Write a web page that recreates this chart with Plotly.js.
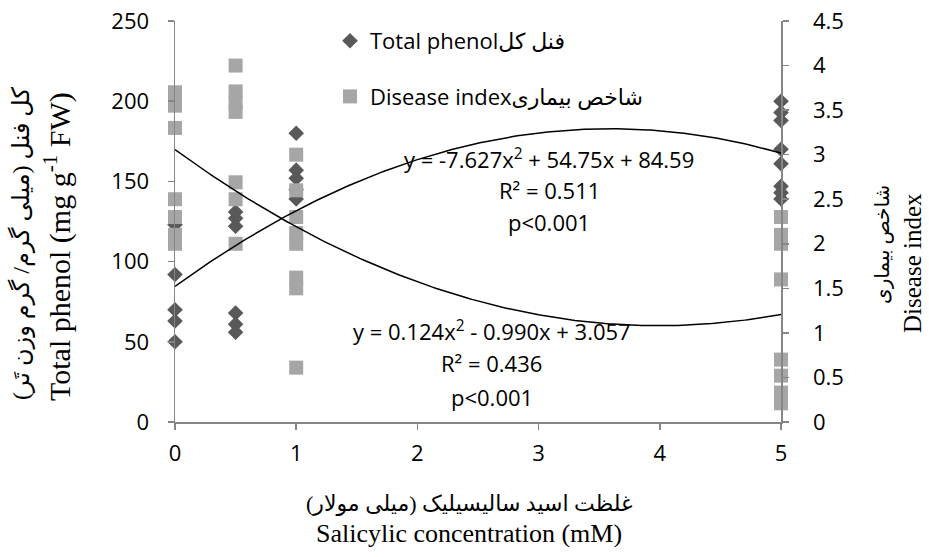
<!DOCTYPE html>
<html>
<head>
<meta charset="utf-8">
<script src="https://cdn.plot.ly/plotly-3.0.1.min.js"></script>
<style>html,body{margin:0;padding:0;background:#fff;}#chart{width:929px;height:557px;}</style>
</head>
<body>
<div id="chart"></div>
<script>
// ---- data ----
const phenolX = [0,0,0,0,0, 0.5,0.5,0.5,0.5,0.5,0.5, 1,1,1,1,1, 5,5,5,5,5,5,5,5];
const phenolY = [123,92,70,63,50, 131,127,122,68,61,56, 180,157,152,145,139, 200,193,188,170,161,147,143,139];
const diseaseX = [0,0,0,0,0,0,0,0, 0.5,0.5,0.5,0.5,0.5,0.5,0.5, 1,1,1,1,1,1,1,1, 5,5,5,5,5,5,5,5];
const diseaseY = [3.70,3.62,3.55,3.30,2.50,2.30,2.10,2.00, 4.00,3.71,3.59,3.48,2.69,2.50,2.00, 3.00,2.60,2.30,2.12,2.00,1.62,1.50,0.61, 2.30,2.10,2.00,1.60,0.70,0.52,0.33,0.21];
// trend-line coefficients as printed on the chart (a, b, c for a*x^2 + b*x + c)
const phenolFit = [-7.627, 54.75, 84.59];
const diseaseFit = [0.124, -0.990, 3.057];
const xTicks = [0,1,2,3,4,5];
const phenolTicks = [0,50,100,150,200,250];
const diseaseTicks = [0,0.5,1,1.5,2,2.5,3,3.5,4,4.5];
const eq1 = ["y = -7.627x<sup>2</sup> + 54.75x + 84.59", "R² = 0.511", "p<0.001"];
const eq2 = ["y = 0.124x<sup>2</sup> - 0.990x + 3.057", "R² = 0.436", "p<0.001"];
const legendPhenol = "Total phenolفنل کل";
const legendDisease = "Disease indexشاخص بیماری";
const xTitleFa = "غلظت اسید سالیسیلیک (میلی مولار)";
const xTitleEn = "Salicylic concentration (mM)";
const yTitleFa = "کل فنل (میلی گرم/ گرم وزن تَر)";
const yTitleEn = "Total phenol (mg g<sup>-1</sup> FW)";
const y2TitleFa = "شاخص بیماری";
const y2TitleEn = "Disease index";

// ---- build fitted curves ----
function curve(c){
  const xs=[], ys=[];
  for(let i=0;i<=200;i++){ const x=5*i/200; xs.push(x); ys.push(c[0]*x*x+c[1]*x+c[2]); }
  return {xs, ys};
}
const pc = curve(phenolFit), dc = curve(diseaseFit);

const tickFont = {family:"Open Sans, DejaVu Sans", size:22, color:"#000"};
const serif = "Liberation Serif, DejaVu Sans";
const axisCol = "#868686";

const traces = [
  {x:phenolX, y:phenolY, type:"scatter", mode:"markers", name:legendPhenol, legendgroup:"a",
   marker:{symbol:"diamond", size:12, color:"#595959"}, yaxis:"y", cliponaxis:false},
  {x:diseaseX, y:diseaseY, type:"scatter", mode:"markers", name:legendDisease, legendgroup:"b",
   marker:{symbol:"square", size:14, color:"#A6A6A6"}, yaxis:"y2", cliponaxis:false},
  {x:dc.xs, y:dc.ys, type:"scatter", mode:"lines", line:{color:"#000", width:1.5}, yaxis:"y2", showlegend:false, hoverinfo:"skip"},
  {x:pc.xs, y:pc.ys, type:"scatter", mode:"lines", line:{color:"#000", width:1.5}, yaxis:"y3", showlegend:false, hoverinfo:"skip"}
];

const L=175, R=781, T=21, B=422, W=R-L, H=B-T;
const px = v => (v-L)/W, py = v => (B-v)/H;
function ann(text,x,y,size,family,angle){
  return {text, x:px(x), y:py(y), xref:"paper", yref:"paper", showarrow:false, xanchor:"center", yanchor:"middle",
          textangle:angle||0, font:{family, size, color:"#000"}};
}
const sans = "Open Sans, DejaVu Sans";
const annotations = [
  ann(eq1[0],549,158,22,sans), ann(eq1[1],549,190,22,sans), ann(eq1[2],549,222,22,sans),
  ann(eq2[0],492,330,22,sans), ann(eq2[1],492,363,22,sans), ann(eq2[2],492,397,22,sans),
  ann(xTitleFa,469,503,22,serif), ann(xTitleEn,469,533,26,serif),
  ann(yTitleFa,21,243,24,serif,-90), ann(yTitleEn,57,247,30,serif,-90),
  ann(y2TitleFa,882,245,20,serif,-90), ann(y2TitleEn,912,263,25,serif,-90)
];

const layout = {
  width:929, height:557,
  margin:{l:L, r:929-R, t:T, b:557-B, pad:0},
  paper_bgcolor:"#fff", plot_bgcolor:"rgba(0,0,0,0)",
  showlegend:true,
  legend:{x:px(330), y:py(20), xanchor:"left", yanchor:"top", tracegroupgap:24,
          font:{family:sans, size:22, color:"#000"}, bgcolor:"rgba(0,0,0,0)", borderwidth:0},
  xaxis:{range:[0,5], tickvals:xTicks, ticktext:xTicks.map(String), showgrid:false, zeroline:false,
         showline:true, linecolor:axisCol, linewidth:1.5, ticks:"outside", ticklen:6, tickcolor:axisCol, tickwidth:1.5,
         tickfont:tickFont, ticklabelstandoff:5, fixedrange:true},
  yaxis:{range:[0,250], tickvals:phenolTicks, ticktext:phenolTicks.map(String), showgrid:false, zeroline:false,
         showline:true, linecolor:axisCol, linewidth:1.5, ticks:"outside", ticklen:6, tickcolor:axisCol, tickwidth:1.5,
         tickfont:tickFont, ticklabelstandoff:14},
  yaxis2:{range:[0,4.5], tickvals:diseaseTicks, ticktext:diseaseTicks.map(String), overlaying:"y", side:"right",
          showgrid:false, zeroline:false, showline:true, linecolor:axisCol, linewidth:1.5, ticks:"outside", ticklen:6,
          tickcolor:axisCol, tickwidth:1.5, tickfont:tickFont, ticklabelstandoff:20},
  yaxis3:{range:[0,250], overlaying:"y", visible:false, showgrid:false, zeroline:false},
  annotations
};
Plotly.newPlot("chart", traces, layout, {displayModeBar:false, staticPlot:true});
</script>
</body>
</html>
